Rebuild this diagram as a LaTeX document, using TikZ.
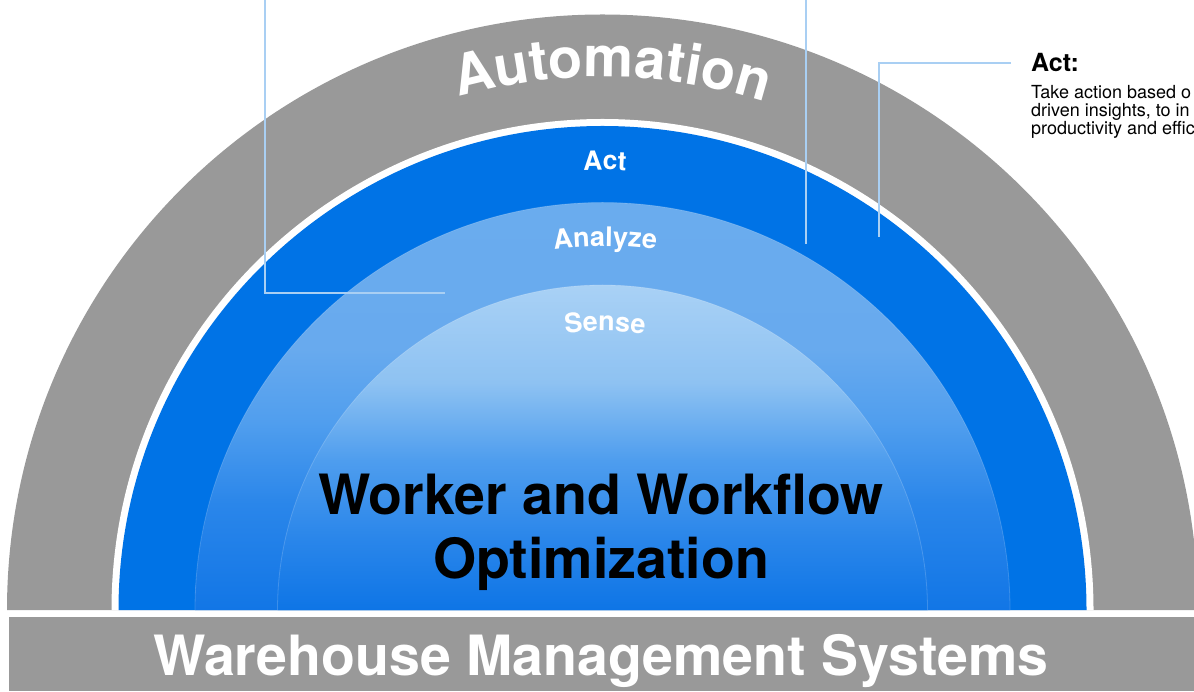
\documentclass[tikz,border=0pt]{standalone}
\usepackage{fontspec}
\setmainfont{TeX Gyre Heros}
\usetikzlibrary{decorations.text}
\definecolor{ringgray}{HTML}{999999}
\definecolor{actblue}{HTML}{0073E6}
\definecolor{linkblue}{HTML}{A9CFF3}
\definecolor{a0}{RGB}{18,118,230}
\definecolor{a1}{RGB}{42,134,234}
\definecolor{a2}{RGB}{80,158,238}
\definecolor{a3}{RGB}{104,170,238}
\definecolor{a4}{RGB}{106,172,238}
\definecolor{s0}{RGB}{14,117,230}
\definecolor{s1}{RGB}{42,134,234}
\definecolor{s2}{RGB}{78,157,238}
\definecolor{s3}{RGB}{142,194,242}
\definecolor{s4}{RGB}{169,209,245}
\pgfdeclareverticalshading{analyzeshade}{100bp}{color(0bp)=(a0); color(25bp)=(a0); color(38bp)=(a1); color(48bp)=(a2); color(57bp)=(a3); color(75bp)=(a4); color(100bp)=(a4)}
\pgfdeclareverticalshading{senseshade}{100bp}{color(0bp)=(s0); color(25bp)=(s0); color(36bp)=(s1); color(48bp)=(s2); color(60bp)=(s3); color(75bp)=(s4); color(100bp)=(s4)}
\begin{document}
\begin{tikzpicture}[x=1pt,y=1pt,
  link/.style={draw=linkblue, line width=1.3pt},
  ringedge/.style={draw=white, draw opacity=0.18, line width=0.8pt},
  bigtext/.style={font=\bfseries\fontsize{55.5}{60}\selectfont, anchor=base, inner sep=0pt},
  sidehead/.style={font=\bfseries\fontsize{25}{25}\selectfont, anchor=base west, inner sep=0pt},
  sidebody/.style={font=\fontsize{18}{19}\selectfont, anchor=base west, inner sep=0pt}]
\useasboundingbox (0,0) rectangle (1194,691);
\coordinate (c) at (602.5,81);
% rings
\fill[ringgray] (c) ++(180:595.5) arc[start angle=180,end angle=0,radius=595.5] -- cycle;
\fill[white] (c) ++(180:491) arc[start angle=180,end angle=0,radius=491] -- cycle;
\fill[actblue] (c) ++(180:484) arc[start angle=180,end angle=0,radius=484] -- cycle;
\shade[shading=analyzeshade] (c) ++(180:407.5) arc[start angle=180,end angle=0,radius=407.5] -- cycle;
\path[ringedge] (c) ++(180:407.5) arc[start angle=180,end angle=0,radius=407.5];
\shade[shading=senseshade] (c) ++(180:325) arc[start angle=180,end angle=0,radius=325] -- cycle;
\path[ringedge] (c) ++(180:325) arc[start angle=180,end angle=0,radius=325];
% base bar
\fill[ringgray] (9,0) rectangle (1200,74);
% curved labels
\path[decorate, decoration={text along path, text align=center, text color=white,
  text={|\bfseries\fontsize{56}{56}\selectfont|Automation}}]
  (c) ++(125:533) arc[start angle=125,end angle=53,radius=533];
\path[decorate, decoration={text along path, text align=center, text color=white,
  text={|\bfseries\fontsize{26.5}{26.5}\selectfont|Act}}]
  (c) ++(110:440) arc[start angle=110,end angle=69.4,radius=440];
\path[decorate, decoration={text along path, text align=center, text color=white,
  text={|\bfseries\fontsize{27}{27}\selectfont|Analyze}}]
  (c) ++(120:364) arc[start angle=120,end angle=59.2,radius=364];
\path[decorate, decoration={text along path, text align=center, text color=white,
  text={|\bfseries\fontsize{27}{27}\selectfont|Sense}}]
  (c) ++(120:279) arc[start angle=120,end angle=59,radius=279];
% main texts
\node[bigtext] (title1) at (601,176) {Worker and Workflow};
\node[bigtext] (title2) at (601,113) {Optimization};
\node[bigtext, text=white] (wms) at (601,16) {Warehouse Management Systems};
% side text
\node[sidehead] (acthead) at (1031,619) {Act:};
\node[sidebody] (actl1) at (1031,592.5) {Take action based o};
\node[sidebody] (actl2) at (1031,574.5) {driven insights, to in};
\node[sidebody] (actl3) at (1031,556.5) {productivity and effic};
% connectors
\coordinate (l1top) at (265,691);
\coordinate (l1end) at (445,398);
\draw[link] (l1top) |- (l1end);
\coordinate (l2top) at (806,691);
\coordinate (l2end) at (806,447);
\draw[link] (l2top) -- (l2end);
\coordinate (l3start) at (1011,628);
\coordinate (l3end) at (879,454);
\draw[link] (l3start) -| (l3end);
\end{tikzpicture}
\end{document}
